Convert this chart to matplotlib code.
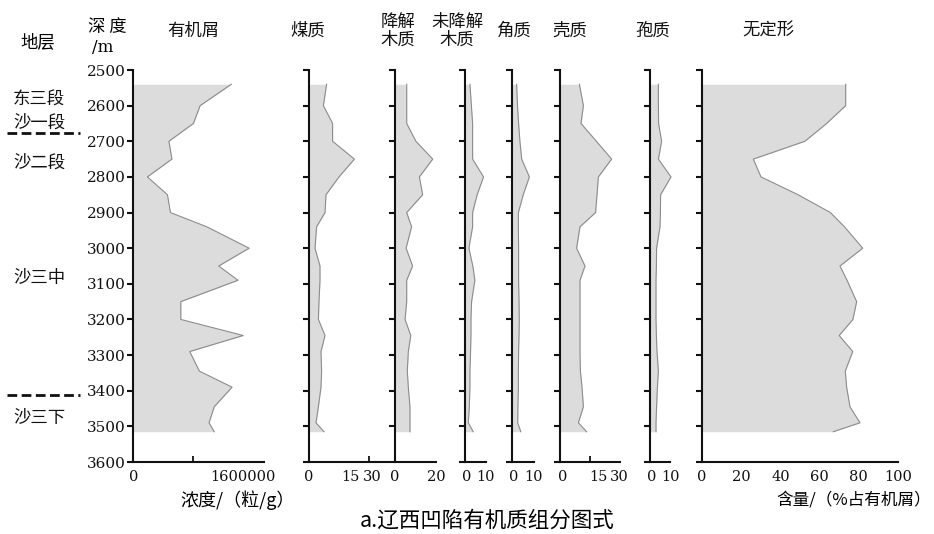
import matplotlib
matplotlib.use("Agg")
import matplotlib.pyplot as plt
from matplotlib import transforms
from matplotlib.lines import Line2D

plt.rcParams['font.family'] = 'DejaVu Serif'
cjk = ['Noto Sans CJK SC', 'DejaVu Sans']

W, H = 934, 534

# 采样深度 (m)
depth = [2540, 2600, 2650, 2700, 2750, 2800, 2850, 2900, 2940, 3000, 3050,
         3090, 3150, 3200, 3245, 3290, 3345, 3390, 3445, 3490, 3515]

# 有机屑浓度 (粒/g)
youjixie = [1320000, 900000, 810000, 480000, 520000, 190000, 460000, 500000,
            990000, 1560000, 1150000, 1410000, 640000, 640000, 1480000,
            760000, 890000, 1330000, 1090000, 1020000, 1090000]
# 各组分含量 (%)
meizhi = [8.8, 7.2, 11.8, 11.8, 22.7, 15.0, 8.5, 8.0, 3.8, 3.0, 5.5,
          5.5, 5.0, 4.7, 8.0, 6.0, 6.3, 6.0, 4.7, 3.5, 7.5]
jiangjie = [5.7, 5.7, 5.7, 10.2, 18.4, 11.9, 13.5, 5.7, 8.1, 5.4, 8.6,
            5.7, 5.7, 4.9, 7.7, 6.5, 6.0, 6.5, 7.3, 7.3, 7.3]
weijiangjie = [2.4, 3.1, 3.7, 3.7, 3.7, 9.0, 5.9, 3.7, 3.7, 1.9, 3.8,
               4.8, 3.2, 2.9, 2.9, 2.7, 2.4, 2.4, 2.1, 1.6, 4.0]
jiaozhi = [2.1, 2.5, 3.0, 3.6, 4.4, 7.9, 5.1, 2.9, 2.9, 3.0, 3.0,
           3.0, 3.2, 3.3, 3.2, 3.0, 2.9, 2.9, 2.7, 2.6, 4.0]
qiaozhi = [9.7, 11.7, 10.5, 18.2, 25.8, 19.2, 18.5, 17.8, 10.0, 8.3, 12.5,
           10.0, 10.0, 10.0, 10.0, 10.0, 10.2, 11.0, 11.7, 9.2, 13.3]
baozhi = [4.2, 4.2, 4.3, 5.8, 4.2, 10.5, 5.3, 5.2, 5.0, 3.3, 3.2,
          3.0, 3.0, 3.0, 3.2, 3.5, 4.2, 3.7, 3.3, 3.0, 3.0]
wudingxing = [73.3, 73.3, 63.6, 52.5, 26.2, 30.1, 49.0, 65.5, 72.7, 82.0, 70.4,
              74.0, 78.9, 77.0, 70.0, 76.9, 73.1, 73.8, 75.5, 80.6, 67.0]

series = [youjixie, meizhi, jiangjie, weijiangjie, jiaozhi, qiaozhi, baozhi, wudingxing]
names = ["有机屑", "煤质", "降解\n木质", "未降解\n木质", "角质", "壳质", "孢质", "无定形"]

depth_ticks = list(range(2500, 3700, 100))
tick_text = [["0", "1600000"], ["0", "15", "30"], ["0", "20"], ["0", "10"],
             ["0", "10"], ["0", "15", "30"], ["0", "10"],
             ["0", "20", "40", "60", "80", "100"]]
tick_pos = [[0, 1480000], [0, 20.8, 31.6], [0, 20], [1.0, 10.2], [0.7, 9.8],
            [1.3, 19.2, 29.5], [0.6, 10.0], [0, 20, 40, 60, 80, 100]]
tick_marks = [[800000], [30], [], [], [], [15], [], [20, 40, 60, 80]]

strata = ["东三段", "沙一段", "沙二段", "沙三中", "沙三下"]
strata_depth = [2584, 2649, 2761, 3084, 3476]
boundary_depth = [2677, 3412]

# 版面 (像素)
left_px = [133.3, 309, 395, 465, 512, 560, 650, 702]
right_px = [264, 388, 436, 486, 534, 620, 670, 898]
xmax = [1760000, 39.5, 20, 10, 10, 30, 10, 100]
head_x = [193, 308, 398, 457, 513, 570, 653, 768]
top_px, bot_px = 70, 462


def fx(px):
    return px / W


def fy(py):
    return 1 - py / H


fig = plt.figure(figsize=(W / 100, H / 100), dpi=100)

axes = []
for i, vals in enumerate(series):
    l, r = left_px[i], right_px[i]
    ax = fig.add_axes([fx(l), fy(bot_px), (r - l) / W, (bot_px - top_px) / H])
    ax.patch.set_alpha(0)
    ax.fill_betweenx(depth, 0, vals, color='#dcdcdc', lw=0, clip_on=False)
    ax.plot(vals, depth, color='#8c8c8c', lw=0.8, clip_on=False)
    ax.set_xlim(0, xmax[i])
    ax.set_ylim(3600, 2500)
    for s in ['top', 'right']:
        ax.spines[s].set_visible(False)
    for s in ['left', 'bottom']:
        ax.spines[s].set_linewidth(1.5)
        ax.spines[s].set_color('#111111')
    ax.set_yticks(depth_ticks)
    ax.tick_params(axis='y', direction='out', length=4, width=1.5, pad=1.5,
                   labelsize=11, colors='#111111', labelleft=(i == 0))
    ax.set_xticks(tick_pos[i], tick_text[i])
    ax.set_xticks(tick_marks[i], minor=True)
    ax.tick_params(axis='x', which='major', length=0, pad=6, labelsize=10.5,
                   colors='#111111')
    ax.tick_params(axis='x', which='minor', direction='in', length=4, width=1.3,
                   colors='#111111')
    fig.text(fx(head_x[i]), fy(31), names[i], family=cjk, fontsize=12.5,
             ha='center', va='center', linespacing=1.0, color='#111111')
    axes.append(ax)

# 表头
fig.text(fx(38), fy(42), "地层", family=cjk, fontsize=12.5, ha='center', va='center')
fig.text(fx(107), fy(27), "深 度", family=cjk, fontsize=12.5, ha='center', va='center')
fig.text(fx(103), fy(48), "/m", fontsize=12, ha='center', va='center')

# 地层分段
tr = transforms.blended_transform_factory(fig.transFigure, axes[0].transData)
for name, d in zip(strata, strata_depth):
    fig.text(fx(39), d, name, transform=tr, family=cjk, fontsize=12.5,
             ha='center', va='center', color='#111111')
for d in boundary_depth:
    fig.add_artist(Line2D([fx(7), fx(80)], [d, d], transform=tr, color='#111111',
                          lw=2, linestyle=(0, (3.5, 1.6))))

# 坐标名称
fig.text(fx(238), fy(500), "浓度/（粒/g）", family=cjk, fontsize=13,
         ha='center', va='center')
fig.text(fx(854), fy(500), "含量/（%占有机屑）", family=cjk, fontsize=12,
         ha='center', va='center')
fig.text(fx(487), fy(521), "a.辽西凹陷有机质组分图式", family=cjk, fontsize=15.5,
         ha='center', va='center')

fig.savefig("out.png", dpi=100)
